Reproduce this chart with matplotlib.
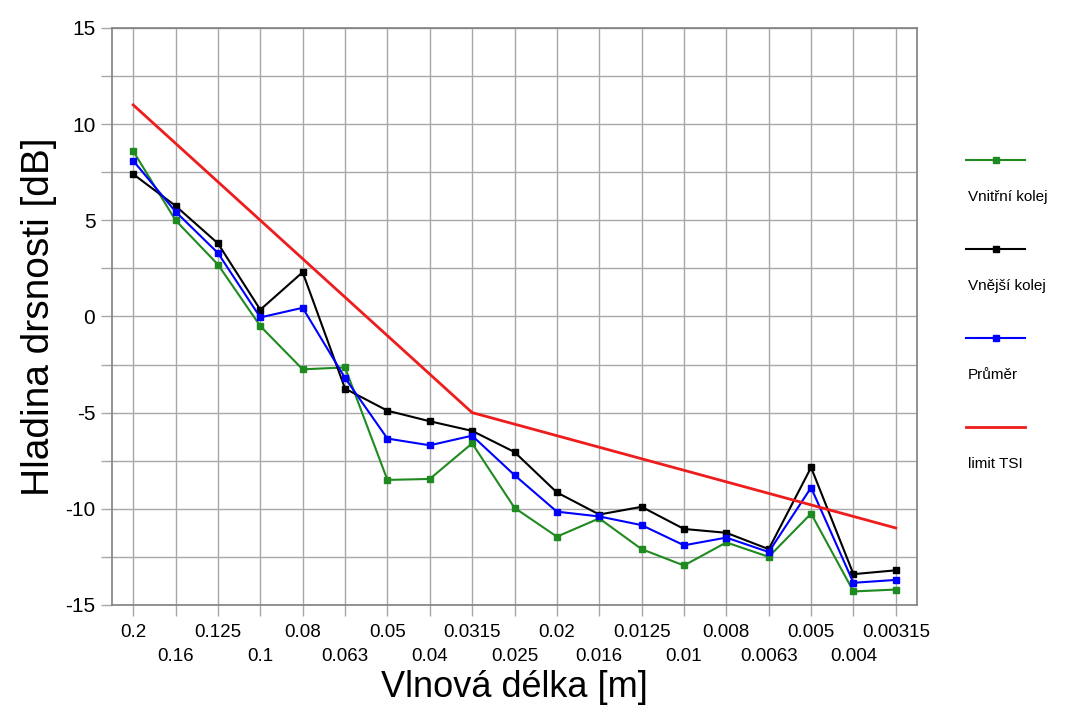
import numpy as np
import matplotlib
matplotlib.use("Agg")
import matplotlib.pyplot as plt
from matplotlib.lines import Line2D

plt.rcParams['font.family'] = ['Liberation Sans', 'DejaVu Sans']

# vlnové délky [m]
wavelengths = ["0.2", "0.16", "0.125", "0.1", "0.08", "0.063", "0.05", "0.04", "0.0315",
               "0.025", "0.02", "0.016", "0.0125", "0.01", "0.008", "0.0063", "0.005",
               "0.004", "0.00315"]

vnitrni = [8.6, 5.0, 2.7, -0.5, -2.75, -2.65, -8.5, -8.45, -6.6, -9.95, -11.45, -10.5,
           -12.1, -12.95, -11.75, -12.5, -10.25, -14.3, -14.2]
vnejsi = [7.4, 5.75, 3.8, 0.35, 2.3, -3.75, -4.9, -5.45, -5.95, -7.05, -9.15, -10.3,
          -9.9, -11.05, -11.25, -12.1, -7.85, -13.4, -13.2]
prumer = [8.1, 5.45, 3.3, -0.05, 0.45, -3.2, -6.35, -6.7, -6.2, -8.25, -10.15, -10.4,
          -10.85, -11.9, -11.5, -12.25, -8.9, -13.85, -13.7]
limit_tsi = [11.0, 9.0, 7.0, 5.0, 3.0, 1.0, -1.0, -3.0, -5.0, -5.6, -6.2, -6.8,
             -7.4, -8.0, -8.6, -9.2, -9.8, -10.4, -11.0]

series = [
    ("Vnitřní kolej", vnitrni, "#1f8a1f", "s"),
    ("Vnější kolej", vnejsi, "#000000", "s"),
    ("Průměr", prumer, "#0000ff", "s"),
    ("limit TSI", limit_tsi, "#ee1c1c", None),
]

fig = plt.figure(figsize=(10.81, 7.10), dpi=100)
ax = fig.add_axes([0.1036, 0.148, 0.7447, 0.8126])

x = np.arange(len(wavelengths))
for name, vals, col, mk in series:
    if mk:
        ax.plot(x, vals, color=col, lw=1.5, marker=mk, ms=5, label=name)
    else:
        ax.plot(x, vals, color=col, lw=2.0, label=name)

ax.set_xlim(-0.5, len(wavelengths) - 0.5)
ax.set_ylim(-15, 15)
ax.set_yticks(np.arange(-15, 15.1, 2.5))
ax.set_yticklabels([f"{v:g}" if v % 5 == 0 else "" for v in np.arange(-15, 15.1, 2.5)])

# liché popisky v druhém řádku
ax.set_xticks(x[::2])
ax.set_xticklabels(wavelengths[::2])
ax.set_xticks(x[1::2], minor=True)
ax.set_xticklabels(wavelengths[1::2], minor=True)

ax.grid(True, which="both", axis="x", color="#a8a8a8", lw=1.0)
ax.grid(True, axis="y", color="#a8a8a8", lw=1.0)
ax.set_axisbelow(True)
for s in ax.spines.values():
    s.set_color("#808080")
    s.set_linewidth(1.2)
ax.tick_params(axis="both", which="both", direction="out", length=8, color="#a8a8a8", width=1.0)
ax.tick_params(axis="y", labelsize=15, pad=4)
ax.tick_params(axis="x", which="major", labelsize=13.5, pad=6)
ax.tick_params(axis="x", which="minor", labelsize=13.5, pad=23)

ax.set_xlabel("Vlnová délka [m]", fontsize=26)
ax.xaxis.set_label_coords(0.5, -0.113)
ax.set_ylabel("Hladina drsnosti [dB]", fontsize=28, labelpad=6)

# legenda: čára nad popiskem
y0 = 160
for k, (name, vals, col, mk) in enumerate(series):
    yl = y0 + k * 89
    fy = 1 - yl / 710
    fig.add_artist(Line2D([966 / 1081, 1025 / 1081], [fy, fy], color=col,
                          lw=1.5 if mk else 2.0, transform=fig.transFigure))
    if mk:
        fig.add_artist(Line2D([995.5 / 1081], [fy], color=col, marker=mk, ms=5, lw=0,
                              transform=fig.transFigure))
    fig.text(968 / 1081, 1 - (yl + 37) / 710, name, fontsize=11, va="center", ha="left")

fig.savefig("out.png", dpi=100)
